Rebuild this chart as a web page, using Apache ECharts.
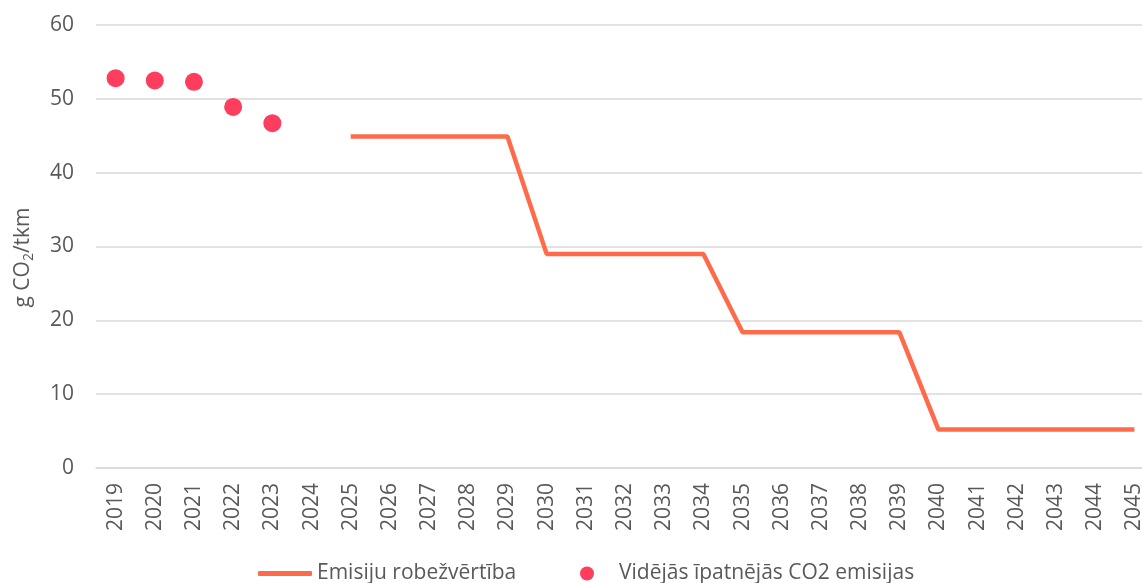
<!DOCTYPE html>
<html>
<head>
<meta charset="utf-8">
<script src="https://cdn.jsdelivr.net/npm/echarts@6/dist/echarts.min.js"></script>
<style>html,body{margin:0;padding:0;background:#fff}#chart{width:1142px;height:583px}</style>
</head>
<body>
<div id="chart"></div>
<script>
var years = ['2019','2020','2021','2022','2023','2024','2025','2026','2027','2028','2029','2030','2031','2032','2033','2034','2035','2036','2037','2038','2039','2040','2041','2042','2043','2044','2045'];
// Emisiju robežvērtība
var limitVals = [null,null,null,null,null,null,44.9,44.9,44.9,44.9,44.9,29,29,29,29,29,18.4,18.4,18.4,18.4,18.4,5.2,5.2,5.2,5.2,5.2,5.2];
// Vidējās īpatnējās CO2 emisijas
var avgVals = [52.8,52.5,52.3,48.9,46.7,null,null,null,null,null,null,null,null,null,null,null,null,null,null,null,null,null,null,null,null,null,null];
var yTicks = [0,10,20,30,40,50,60];

var font = 'Open Sans';
var grey = '#595959';
var legendText = { fontFamily: font, fontSize: 21, color: grey };
var chart = echarts.init(document.getElementById('chart'));
chart.setOption({
  animation: false,
  textStyle: { fontFamily: font },
  grid: { left: 96, top: 25, width: 1058, height: 443, outerBoundsMode: 'none', containLabel: false },
  legend: [
    {
      top: 558, left: 253,
      itemWidth: 54, itemHeight: 5,
      textStyle: legendText,
      data: [{ name: 'Emisiju robežvērtība', icon: 'roundRect' }]
    },
    {
      top: 558, left: 575,
      itemWidth: 54, itemHeight: 14,
      textStyle: legendText,
      data: [{ name: 'Vidējās īpatnējās CO2 emisijas', icon: 'circle' }]
    }
  ],
  xAxis: {
    type: 'category',
    data: years,
    boundaryGap: true,
    axisLine: { lineStyle: { color: '#d9d9d9', width: 1.5 } },
    axisTick: { show: false },
    axisLabel: { rotate: 90, interval: 0, color: grey, fontSize: 21, fontFamily: font, margin: 15 }
  },
  yAxis: {
    type: 'value',
    min: yTicks[0],
    max: yTicks[yTicks.length - 1],
    interval: 10,
    name: 'g CO{sub|2}/tkm',
    nameLocation: 'middle',
    nameGap: 60,
    nameRotate: 90,
    nameTextStyle: {
      color: grey, fontSize: 21, fontFamily: font,
      padding: [0, 22, 0, 0],
      rich: { sub: { fontSize: 14, color: grey, fontFamily: font, verticalAlign: 'bottom', padding: [11, 0, 0, 0] } }
    },
    axisLine: { show: false },
    axisTick: { show: false },
    axisLabel: { color: grey, fontSize: 21, fontFamily: font, margin: 22 },
    splitLine: { lineStyle: { color: '#d9d9d9', width: 1.5 } }
  },
  series: [
    {
      name: 'Emisiju robežvērtība',
      type: 'line',
      data: limitVals,
      symbol: 'none',
      lineStyle: { color: '#ff6b4a', width: 4.5 },
      itemStyle: { color: '#ff6b4a' }
    },
    {
      name: 'Vidējās īpatnējās CO2 emisijas',
      type: 'scatter',
      data: avgVals,
      symbolSize: 18,
      itemStyle: { color: '#ff3d5e', opacity: 1 }
    }
  ]
});
</script>
</body>
</html>
